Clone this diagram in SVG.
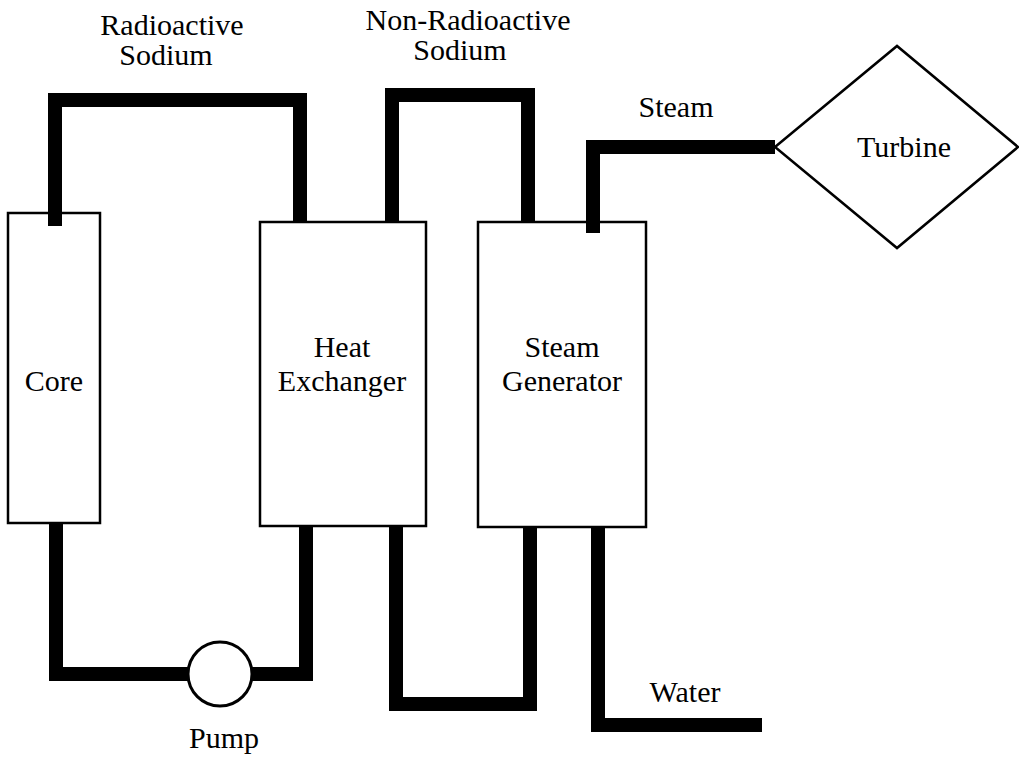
<svg xmlns="http://www.w3.org/2000/svg" width="1019" height="762" viewBox="0 0 1019 762">
<style>
.box{fill:#fff;stroke:#000;stroke-width:2.5}
.pipe{fill:none;stroke:#000;stroke-width:14;stroke-linejoin:miter;stroke-linecap:butt}
text{font-family:"Liberation Serif","Times New Roman",serif;font-size:30px;fill:#000;text-anchor:middle}
</style>
<rect width="1019" height="762" fill="#fff"/>
<g id="connectors">
<path class="pipe" d="M55,222 V100 H300 V222"/>
<path class="pipe" d="M56,521 V674 H188"/>
<path class="pipe" d="M248,674 H306 V525"/>
<path class="pipe" d="M392,222 V95 H528 V222"/>
<path class="pipe" d="M396,525 V704 H530 V525"/>
<path class="pipe" d="M593,232 V147 H775"/>
<path class="pipe" d="M598,525 V725 H762"/>
</g>
<g id="core"><rect class="box" x="8" y="213" width="92" height="310"/><text x="54" y="391">Core</text></g>
<g id="heat-exchanger"><rect class="box" x="260" y="222" width="166" height="304"/><text x="342" y="357">Heat</text><text x="342" y="391">Exchanger</text></g>
<g id="steam-generator"><rect class="box" x="478" y="222" width="168" height="305"/><text x="562" y="357">Steam</text><text x="562" y="391">Generator</text></g>
<g id="pipe-ends">
<path class="pipe" d="M55,226 V212"/>
<path class="pipe" d="M593,233 V220"/>
</g>
<g id="pump"><circle cx="220" cy="674" r="32" fill="#fff" stroke="#000" stroke-width="3"/><text x="224" y="748">Pump</text></g>
<g id="turbine"><polygon points="775,147 897,46 1018,147 897,248" fill="#fff" stroke="#000" stroke-width="2.5"/><text x="904" y="157">Turbine</text></g>
<g id="labels">
<text x="172" y="35">Radioactive</text><text x="166" y="65">Sodium</text>
<text x="468" y="30">Non-Radioactive</text><text x="460" y="60">Sodium</text>
<text x="676" y="117">Steam</text>
<text x="685" y="702">Water</text>
</g>
</svg>
